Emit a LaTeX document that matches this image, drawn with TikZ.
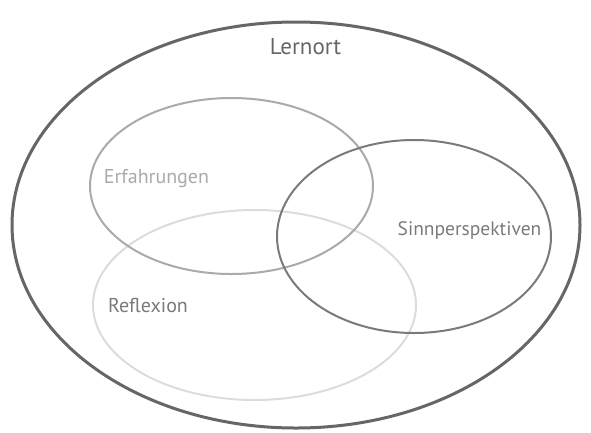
\documentclass[tikz,border=0pt]{standalone}
\usepackage{fontspec}
\setmainfont{PT Sans}
\usepackage{tikz}
\usetikzlibrary{positioning}
\definecolor{ringdark}{HTML}{666666}
\definecolor{ringmid}{HTML}{7A7A7A}
\definecolor{ringlight}{HTML}{AAAAAA}
\definecolor{ringpale}{HTML}{DCDCDC}
\tikzstyle{ring}=[line width=2pt]
\tikzstyle{lbl}=[inner sep=0pt, anchor=base, font=\fontsize{20}{24}\selectfont]

\begin{document}
\begin{tikzpicture}
[x=1pt, y=-1pt]
 \useasboundingbox (0,0) rectangle (591,432);
 \draw[ring, ringdark, line width=3pt] (296,225) ellipse [x radius=284, y radius=203];
 \draw[ring, ringpale] (254.5,305) ellipse [x radius=161.5, y radius=95];
 \draw[ring, ringlight] (231.5,186) ellipse [x radius=141.5, y radius=88];
 \draw[ring, ringmid] (414,236.5) ellipse [x radius=137, y radius=96.5];
 \node[lbl, text=ringdark, font=\fontsize{23}{27}\selectfont] (lernort) at (305.5,54) {Lernort};
 \node[lbl, text=ringlight] (erfahrungen) at (156.5,183) {Erfahrungen};
 \node[lbl, text=ringmid, font=\fontsize{19.5}{23}\selectfont] (sinn) at (469.5,235) {Sinnperspektiven};
 \node[lbl, text=ringmid] (reflexion) at (148,312) {Reflexion};
\end{tikzpicture}
\end{document}
